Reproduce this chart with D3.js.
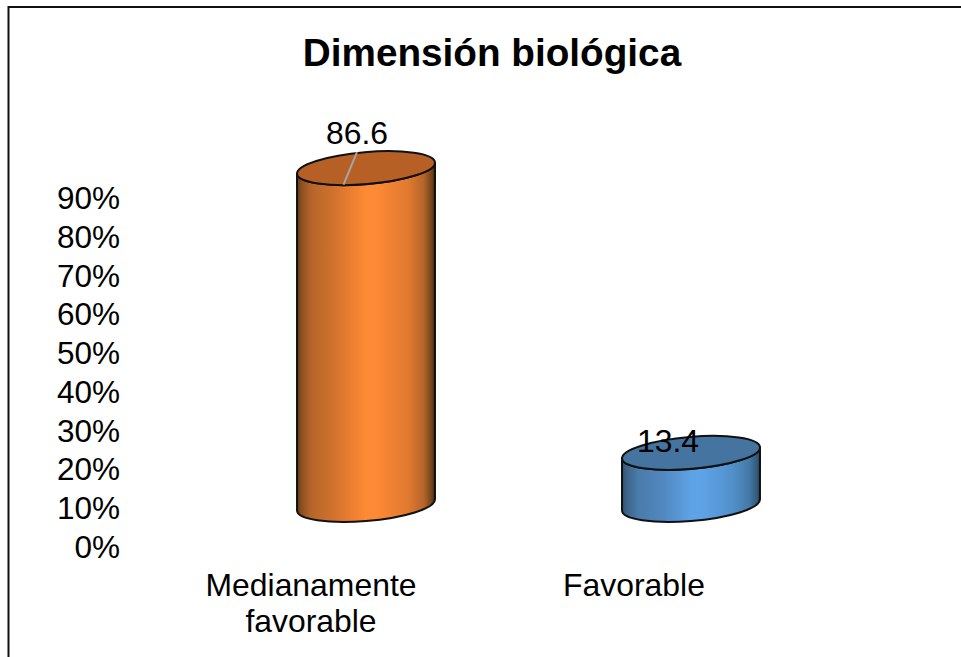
<!DOCTYPE html>
<html lang="es">
<head>
<meta charset="utf-8">
<script src="https://cdn.jsdelivr.net/npm/d3@7"></script>
<style>
  html, body { margin: 0; padding: 0; background: #fff; }
  svg { display: block; }
  text { font-family: "Liberation Sans", Arial, sans-serif; fill: #000; }
</style>
</head>
<body>
<div id="chart"></div>
<script>
const chartTitle = "Dimensión biológica";
const categories = ["Medianamente favorable", "Favorable"];
const categoryLines = [["Medianamente", "favorable"], ["Favorable"]];
const values = [86.6, 13.4];
const axisTicks = [0, 10, 20, 30, 40, 50, 60, 70, 80, 90];

const width = 961, height = 657;
const svg = d3.select("#chart").append("svg").attr("width", width).attr("height", height);
const defs = svg.append("defs");

// Chart frame: only the top and left edges fall inside the page
svg.append("path")
  .attr("d", d3.line()([[8.5, height], [8.5, 7], [width, 7]]))
  .attr("fill", "none").attr("stroke", "#111").attr("stroke-width", 2);

svg.append("text")
  .attr("x", 492).attr("y", 66)
  .attr("text-anchor", "middle")
  .attr("font-size", 38.7).attr("font-weight", 700)
  .text(chartTitle);

// Value axis sits in front of the cylinders' floor, hence its own range
const yAxis = d3.scaleLinear().domain([0, 90]).range([547.4, 198.4]);
const yBar = d3.scaleLinear().domain([0, 100]).range([505, 116]);
const x = d3.scaleBand().domain(categories).range([203.5, 853.5]).paddingInner(0).paddingOuter(0);

const axisG = svg.append("g")
  .attr("transform", "translate(120,0)")
  .call(d3.axisLeft(yAxis).tickValues(axisTicks).tickSize(0).tickPadding(0).tickFormat(d => d + "%"));
axisG.select(".domain").remove();
axisG.selectAll("text").attr("font-size", 31.5).attr("font-family", '"Liberation Sans", Arial, sans-serif').attr("fill", "#000");

// Rotated ellipse used for both cylinder caps
const rx = 69.2, ry = 16, tilt = -4.8;
const th = tilt * Math.PI / 180;
const halfW = Math.sqrt(rx * rx * Math.cos(th) ** 2 + ry * ry * Math.sin(th) ** 2);
const tanY = (rx * rx - ry * ry) * Math.sin(th) * Math.cos(th) / halfW;

const palettes = [
  { id: "sideOrange", cap: "#b66026", stops: [[0, "#5f3917"], [0.03, "#8a4e22"], [0.1, "#b4652a"], [0.3, "#d8752e"], [0.5, "#ff8a35"], [0.56, "#ff8a35"], [0.8, "#e27a30"], [0.92, "#b5652a"], [0.98, "#6d4019"], [1, "#3c2410"]] },
  { id: "sideBlue", cap: "#44749f", stops: [[0, "#2f4f6e"], [0.03, "#3c6387"], [0.12, "#4a7cab"], [0.3, "#5288c0"], [0.5, "#5ea3e6"], [0.58, "#5ea3e6"], [0.8, "#5290cb"], [0.92, "#457aa8"], [0.98, "#33597b"], [1, "#243f58"]] }
];

palettes.forEach(p => {
  const g = defs.append("linearGradient").attr("id", p.id).attr("x1", 0).attr("x2", 1).attr("y1", 0).attr("y2", 0);
  p.stops.forEach(s => g.append("stop").attr("offset", s[0]).attr("stop-color", s[1]));
});

const bars = svg.selectAll("g.cyl").data(categories).join("g").attr("class", "cyl");

bars.each(function (c, i) {
  const g = d3.select(this);
  const cx = x(c) + x.bandwidth() / 2;
  const yTop = yBar(values[i]);
  const yBase = yBar(0);
  const p = palettes[i];
  const side = `M${cx - halfW},${yTop - tanY} L${cx - halfW},${yBase - tanY} ` +
    `A${rx},${ry} ${tilt} 0 0 ${cx + halfW},${yBase + tanY} L${cx + halfW},${yTop + tanY} ` +
    `A${rx},${ry} ${tilt} 0 1 ${cx - halfW},${yTop - tanY} Z`;
  g.append("path").attr("d", side)
    .attr("fill", `url(#${p.id})`).attr("stroke", "#111").attr("stroke-width", 2).attr("stroke-linejoin", "round");
  g.append("ellipse")
    .attr("cx", cx).attr("cy", yTop).attr("rx", rx).attr("ry", ry)
    .attr("transform", `rotate(${tilt} ${cx} ${yTop})`)
    .attr("fill", p.cap).attr("stroke", "#111").attr("stroke-width", 2);
});

// Leader from the first cylinder's cap up to its label
const cx0 = x(categories[0]) + x.bandwidth() / 2;
svg.append("line")
  .attr("x1", cx0 - 22.5).attr("y1", yBar(values[0]) + 16.5)
  .attr("x2", cx0 - 9).attr("y2", yBar(values[0]) - 16)
  .attr("stroke", "#a6a6a6").attr("stroke-width", 2);

// Value labels, each nudged off its cap centre
const labelDx = [-9, -23], labelDy = [-24, -0.5];
svg.selectAll("text.val").data(values).join("text")
  .attr("class", "val")
  .attr("x", (d, i) => x(categories[i]) + x.bandwidth() / 2 + labelDx[i])
  .attr("y", (d, i) => yBar(d) + labelDy[i])
  .attr("text-anchor", "middle")
  .attr("font-size", 31.9)
  .text(d => d);

// Category labels
const catDx = -55;
const catText = svg.selectAll("text.cat").data(categories).join("text")
  .attr("class", "cat")
  .attr("text-anchor", "middle")
  .attr("font-size", 31.9);
catText.each(function (c, i) {
  const cxx = x(c) + x.bandwidth() / 2 + catDx - (i === 1 ? 2 : 0);
  d3.select(this).selectAll("tspan").data(categoryLines[i]).join("tspan")
    .attr("x", cxx)
    .attr("y", (d, j) => 596 + j * 36)
    .text(d => d);
});
</script>
</body>
</html>
